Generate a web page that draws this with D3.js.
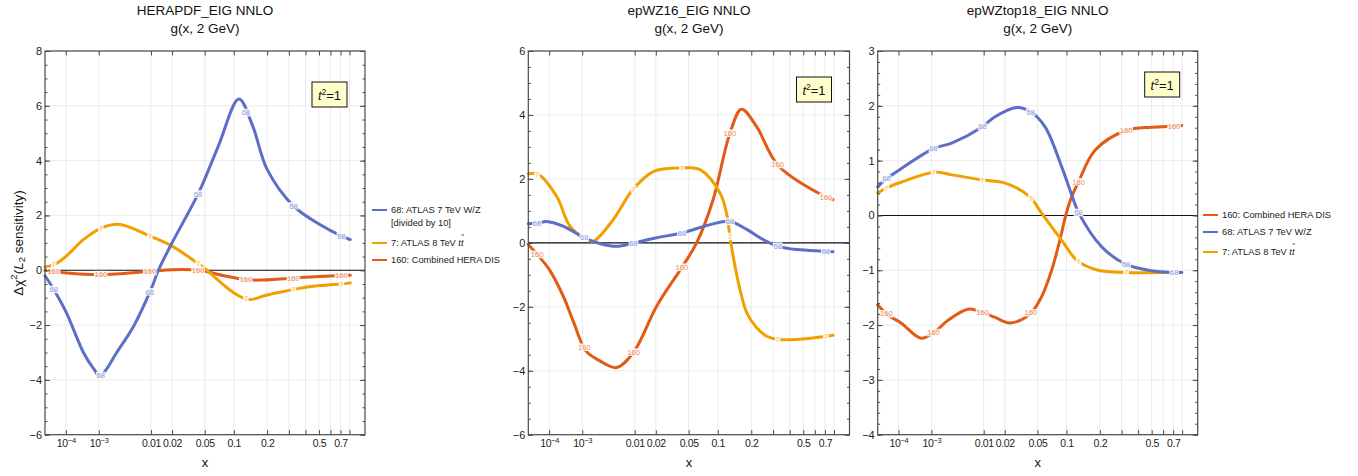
<!DOCTYPE html>
<html>
<head>
<meta charset="utf-8">
<script src="https://cdn.jsdelivr.net/npm/d3@7"></script>
<style>
body { margin: 0; background: #fff; }
svg { font-family: "Liberation Sans", Arial, sans-serif; }
</style>
</head>
<body>
<svg id="chart" width="1358" height="476"></svg>
<script>
// x axis ticks (x^0.2 scale)
var xTicks = [1e-4, 1e-3, 0.01, 0.02, 0.05, 0.1, 0.2, 0.3, 0.4, 0.5, 0.6, 0.7, 0.8];
var xLabelled = [1e-4, 1e-3, 0.01, 0.02, 0.05, 0.1, 0.2, 0.5, 0.7];
// x positions of the in-line curve labels
var labelXs = [3e-5, 1.12e-3, 0.0096, 0.042, 0.13, 0.325, 0.71];

// HERAPDF_EIG NNLO
var hera68 = [[1e-5, -0.2], [2.9e-5, -0.68], [1e-4, -1.5], [3.9e-4, -3.0], [7.5e-4, -3.6], [1.08e-3, -3.87],
  [1.5e-3, -3.62], [2.5e-3, -3.0], [5.2e-3, -2.04], [0.01, -0.7], [0.0129, 0], [0.02, 1.0], [0.0426, 2.82],
  [0.07, 4.53], [0.112, 6.25], [0.15, 5.26], [0.2, 3.68], [0.326, 2.34], [0.5, 1.69], [0.718, 1.24], [0.81, 1.12]];
var hera7 = [[1e-5, 0.12], [3.2e-5, 0.21], [1e-4, 0.5], [3.9e-4, 1.12], [1.19e-3, 1.55], [2.9e-3, 1.67],
  [0.0098, 1.24], [0.02, 0.88], [0.0426, 0.23], [0.0528, 0], [0.1, -0.82], [0.1377, -1.07], [0.2, -0.9],
  [0.326, -0.7], [0.5, -0.56], [0.74, -0.49], [0.81, -0.46]];
var hera160 = [[1e-5, 0], [3e-5, -0.04], [1.1e-4, -0.1], [1.1e-3, -0.16], [0.01, -0.04], [0.02, 0.02],
  [0.043, 0], [0.08, -0.2], [0.13, -0.34], [0.17, -0.36], [0.33, -0.28], [0.74, -0.18], [0.81, -0.18]];

// epWZ16_EIG NNLO
var wz68 = [[1e-5, 0.6], [3.4e-5, 0.62], [8e-5, 0.67], [3e-4, 0.52], [1.22e-3, 0.13], [2.44e-3, -0.02],
  [5.1e-3, -0.11], [9.7e-3, 0], [0.0205, 0.16], [0.0423, 0.31], [0.084, 0.57], [0.13, 0.67], [0.183, 0.42],
  [0.251, 0.1], [0.328, -0.11], [0.45, -0.21], [0.707, -0.26], [0.79, -0.28]];
var wz7 = [[1e-5, 2.16], [3.3e-5, 2.15], [1.87e-4, 1.45], [4.8e-4, 0.52], [1.22e-3, 0.12], [1.78e-3, 0.05],
  [4.43e-3, 0.73], [9.3e-3, 1.66], [0.0185, 2.23], [0.0421, 2.34], [0.0663, 2.29], [0.105, 1.56],
  [0.1207, 0.94], [0.13, 0.2], [0.139, -0.42], [0.16, -1.46], [0.183, -2.18], [0.221, -2.65], [0.27, -2.93],
  [0.325, -3.02], [0.449, -3.02], [0.7, -2.93], [0.79, -2.89]];
var wz160 = [[1e-5, -0.05], [3.4e-5, -0.4], [1e-4, -0.83], [3.04e-4, -1.67], [5.88e-4, -2.45], [1.22e-3, -3.38],
  [2.44e-3, -3.69], [5.08e-3, -3.9], [9.7e-3, -3.41], [0.0205, -1.98], [0.0423, -0.75],
  [0.061, 0], [0.09, 1.35], [0.13, 3.43], [0.165, 4.18], [0.221, 3.64], [0.328, 2.42], [0.707, 1.44], [0.79, 1.35]];

// epWZtop18_EIG NNLO
var top68 = [[1e-5, 0.52], [2.54e-5, 0.65], [1.32e-4, 0.86], [1.11e-3, 1.22], [2.78e-3, 1.32], [9.34e-3, 1.61],
  [0.0147, 1.8], [0.0284, 1.97], [0.041, 1.9], [0.0603, 1.62], [0.0896, 0.89], [0.112, 0.38], [0.1294, 0.06],
  [0.207, -0.57], [0.322, -0.89], [0.5, -1.01], [0.7, -1.04], [0.795, -1.04]];
var top7 = [[1e-5, 0.41], [2.6e-5, 0.49], [1.32e-4, 0.61], [1.15e-3, 0.79], [2.78e-3, 0.74], [9.34e-3, 0.65],
  [0.0203, 0.59], [0.041, 0.34], [0.0556, 0.04], [0.0896, -0.45], [0.127, -0.83], [0.194, -1.0],
  [0.322, -1.04], [0.7, -1.04], [0.795, -1.04]];
var top160 = [[1e-5, -1.63], [3.1e-5, -1.8], [1.32e-4, -1.97], [5.4e-4, -2.24], [1.17e-3, -2.13], [2.36e-3, -1.91],
  [5.6e-3, -1.71], [9.5e-3, -1.77], [0.0147, -1.86], [0.0235, -1.96], [0.041, -1.8], [0.0556, -1.48],
  [0.071, -1.0], [0.085, -0.49], [0.1, 0.05], [0.112, 0.34], [0.129, 0.6], [0.182, 1.19], [0.324, 1.55],
  [0.5, 1.61], [0.708, 1.63], [0.795, 1.64]];

var colors = { '68': '#5c6ec8', '7': '#f2a000', '160': '#e25a16' };
var names = {
  '68': '68: ATLAS 7 TeV W/Z',
  '7': '7: ATLAS 8 TeV ',
  '160': '160: Combined HERA DIS'
};

var panels = [
  { title: 'HERAPDF_EIG NNLO', left: 45, right: 365, yDomain: [-6, 8], step: 2, minor: 0.5, boxTop: 82,
    series: { '160': hera160, '7': hera7, '68': hera68 },
    legend: ['68', '7', '160'], legendX: 372, legendY: 210 },
  { title: 'epWZ16_EIG NNLO', left: 528.3, right: 849.5, yDomain: [-6, 6], step: 2, minor: 0.5, boxTop: 77,
    series: { '160': wz160, '7': wz7, '68': wz68 } },
  { title: 'epWZtop18_EIG NNLO', left: 877.7, right: 1197.7, yDomain: [-4, 3], step: 1, minor: 0.2, boxTop: 72,
    series: { '160': top160, '7': top7, '68': top68 },
    legend: ['160', '68', '7'], legendX: 1203, legendY: 215 }
];

var plotTop = 51;
var plotBottom = 434.7;
var frameColor = '#4a4a4a';
var svg = d3.select('#chart');

d3.translate = function (dx, dy) {
  return 'translate(' + dx + ',' + dy + ')';
};

function fmtNum(d) {
  return d < 0 ? '\u2212' + Math.abs(d) : String(d);
}

// Draw one panel
function drawPanel(p) {
  var g = svg.append('g');
  var x = d3.scalePow().exponent(0.2).domain([1e-5, 1]).range([p.left, p.right]);
  var y = d3.scaleLinear().domain(p.yDomain).range([plotBottom, plotTop]);
  var yMajor = d3.range(p.yDomain[0], p.yDomain[1] + 1e-9, p.step);
  var yMinor = d3.range(p.yDomain[0], p.yDomain[1] + 1e-9, p.minor);

  // grid
  g.append('g').selectAll('line').data(xTicks).join('line')
    .attr('x1', function (d) { return x(d); }).attr('x2', function (d) { return x(d); })
    .attr('y1', plotTop).attr('y2', plotBottom)
    .attr('stroke', '#ebebeb').attr('stroke-width', 1);
  g.append('g').selectAll('line').data(yMajor).join('line')
    .attr('x1', p.left).attr('x2', p.right)
    .attr('y1', function (d) { return y(d); }).attr('y2', function (d) { return y(d); })
    .attr('stroke', '#ebebeb').attr('stroke-width', 1);

  // zero line
  g.append('line').attr('x1', p.left).attr('x2', p.right)
    .attr('y1', y(0)).attr('y2', y(0)).attr('stroke', '#111').attr('stroke-width', 1.1);

  // curves
  var line = d3.line()
    .x(function (d) { return x(d[0]); })
    .y(function (d) { return y(d[1]); })
    .curve(d3.curveCatmullRom.alpha(0.5));
  ['160', '7', '68'].forEach(function (k) {
    g.append('path').datum(p.series[k]).attr('d', line)
      .attr('fill', 'none').attr('stroke', colors[k]).attr('stroke-width', 3)
      .attr('stroke-linecap', 'round');
  });

  // in-line labels
  ['160', '7', '68'].forEach(function (k) {
    var data = p.series[k];
    var interp = d3.scaleLinear()
      .domain(data.map(function (d) { return x(d[0]); }))
      .range(data.map(function (d) { return y(d[1]); }));
    labelXs.forEach(function (lx) {
      var cx = x(lx);
      var cy = interp(cx);
      var w = k.length * 4.1 + 1.5;
      g.append('rect').attr('x', cx - w / 2).attr('y', cy - 3.8).attr('width', w).attr('height', 7.6)
        .attr('fill', '#fff').attr('opacity', 0.85);
      g.append('text').attr('x', cx).attr('y', cy).attr('dy', '0.35em')
        .attr('text-anchor', 'middle').attr('font-size', 7.6)
        .attr('fill', d3.interpolateRgb(colors[k], '#fff')(0.3)).text(k);
    });
  });

  // frame
  g.append('rect').attr('x', p.left).attr('y', plotTop)
    .attr('width', p.right - p.left).attr('height', plotBottom - plotTop)
    .attr('fill', 'none').attr('stroke', frameColor).attr('stroke-width', 1.2);

  function styleAxis(sel) {
    sel.select('.domain').remove();
    sel.attr('color', frameColor);
    sel.selectAll('text').attr('fill', '#222');
  }

  // bottom axis with labels
  var bottom = g.append('g').attr('transform', d3.translate(0, plotBottom))
    .call(d3.axisBottom(x).tickValues(xTicks).tickSizeInner(-4.5).tickSizeOuter(0).tickPadding(5)
      .tickFormat(''))
    .call(styleAxis);
  bottom.selectAll('.tick text').attr('font-size', 10.5).attr('letter-spacing', -0.35).each(function (d) {
    if (xLabelled.indexOf(d) < 0) return;
    var t = d3.select(this);
    if (d < 0.005) {
      t.append('tspan').text('10');
      t.append('tspan').attr('dy', -4.5).attr('font-size', 7.5).text('\u2212' + Math.round(-Math.log10(d)));
    } else {
      t.text(d3.format('~g')(d));
    }
  });
  g.append('g').call(d3.axisTop(x).tickValues(xTicks).tickSizeInner(-4.5).tickSizeOuter(0).tickFormat(''))
    .attr('transform', d3.translate(0, plotTop)).call(styleAxis);

  // y axes
  g.append('g').attr('transform', d3.translate(p.left, 0))
    .call(d3.axisLeft(y).tickValues(yMinor).tickSizeInner(-2.5).tickSizeOuter(0).tickFormat(''))
    .call(styleAxis);
  g.append('g').attr('transform', d3.translate(p.left, 0))
    .call(d3.axisLeft(y).tickValues(yMajor).tickSizeInner(-5).tickSizeOuter(0).tickPadding(3)
      .tickFormat(fmtNum))
    .call(styleAxis)
    .selectAll('text').attr('font-size', 11);
  g.append('g').attr('transform', d3.translate(p.right, 0))
    .call(d3.axisRight(y).tickValues(yMinor).tickSizeInner(-2.5).tickSizeOuter(0).tickFormat(''))
    .call(styleAxis);
  g.append('g').attr('transform', d3.translate(p.right, 0))
    .call(d3.axisRight(y).tickValues(yMajor).tickSizeInner(-5).tickSizeOuter(0).tickFormat(''))
    .call(styleAxis);

  // titles
  var cx = (p.left + p.right) / 2;
  g.append('text').attr('x', cx).attr('y', 14.5).attr('text-anchor', 'middle')
    .attr('font-size', 13.5).attr('fill', '#111').text(p.title);
  g.append('text').attr('x', cx).attr('y', 33).attr('text-anchor', 'middle')
    .attr('font-size', 13.5).attr('fill', '#111').text('g(x, 2 GeV)');
  g.append('text').attr('x', cx).attr('y', 467).attr('text-anchor', 'middle')
    .attr('font-size', 13).attr('fill', '#111').text('x');

  // t^2 = 1 box
  var bx = p.right - 53;
  g.append('rect').attr('x', bx).attr('y', p.boxTop).attr('width', 35).attr('height', 25)
    .attr('fill', '#ffffcc').attr('stroke', '#111').attr('stroke-width', 1);
  var bt = g.append('text').attr('x', bx + 17.5).attr('y', p.boxTop + 17.5)
    .attr('text-anchor', 'middle').attr('font-size', 13).attr('fill', '#111');
  bt.append('tspan').attr('font-style', 'italic').text('t');
  bt.append('tspan').attr('dy', -5).attr('font-size', 8.5).text('2');
  bt.append('tspan').attr('dy', 5).text('=1');

  // legend
  if (p.legend) {
    var ly = p.legendY;
    p.legend.forEach(function (k, i) {
      if (k === '7' && i > 0) ly += 3;
      g.append('line').attr('x1', p.legendX).attr('x2', p.legendX + 15)
        .attr('y1', ly).attr('y2', ly).attr('stroke', colors[k]).attr('stroke-width', 2);
      var t = g.append('text').attr('x', p.legendX + 19).attr('y', ly).attr('dy', '0.35em')
        .attr('font-size', 9.3).attr('fill', '#222').text(names[k]);
      if (k === '7') {
        t.append('tspan').attr('font-style', 'italic').text('tt');
        var node = t.node();
        var n = node.getNumberOfChars();
        var s = node.getStartPositionOfChar(n - 1);
        var e = node.getEndPositionOfChar(n - 1);
        g.append('line').attr('x1', s.x + 0.5).attr('x2', e.x + 0.5)
          .attr('y1', ly - 8).attr('y2', ly - 8).attr('stroke', '#222').attr('stroke-width', 0.8);
      }
      ly += 17;
      if (k === '68' && p.title === 'HERAPDF_EIG NNLO') {
        g.append('text').attr('x', p.legendX + 19).attr('y', ly - 4.5).attr('dy', '0.35em')
          .attr('font-size', 9.3).attr('fill', '#222').text('[divided by 10]');
        ly += 13;
      }
    });
  }
}

panels.forEach(drawPanel);

// y axis label (first panel only)
var yl = svg.append('text').attr('transform', 'translate(17.5,243) rotate(-90)')
  .attr('text-anchor', 'middle').attr('dominant-baseline', 'central')
  .attr('font-size', 13.5).attr('fill', '#111');
yl.append('tspan').text('\u0394\u03c7');
yl.append('tspan').attr('dy', -4.5).attr('font-size', 9.5).text('2');
yl.append('tspan').attr('dy', 4.5).text('(');
yl.append('tspan').attr('font-style', 'italic').text('L');
yl.append('tspan').attr('dy', 3).attr('font-size', 9.5).text('2');
yl.append('tspan').attr('dy', -3).text(' sensitivity)');
</script>
</body>
</html>
